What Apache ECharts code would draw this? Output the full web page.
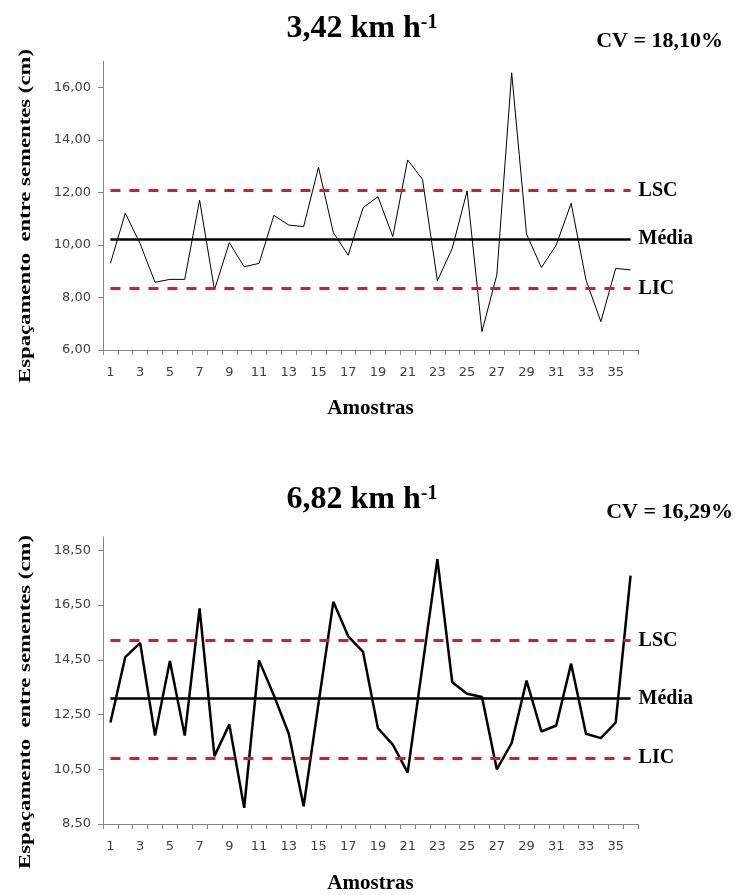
<!DOCTYPE html>
<html>
<head>
<meta charset="utf-8">
<script src="https://cdn.jsdelivr.net/npm/echarts@6/dist/echarts.min.js"></script>
<style>
  html, body { margin: 0; padding: 0; background: #fff; }
  #chart { width: 735px; height: 895px; }
</style>
</head>
<body>
<div id="chart"></div>
<script>
// ---------- data ----------
const categories = ['1','2','3','4','5','6','7','8','9','10','11','12','13','14','15','16','17','18',
  '19','20','21','22','23','24','25','26','27','28','29','30','31','32','33','34','35','36'];

// 3,42 km/h
const spacingA = [9.30, 11.21, 10.05, 8.58, 8.69, 8.69, 11.71, 8.29, 10.09, 9.17, 9.30, 11.13,
  10.76, 10.70, 12.96, 10.47, 9.61, 11.42, 11.84, 10.32, 13.24, 12.50, 8.64, 9.87,
  12.06, 6.70, 8.86, 16.56, 10.42, 9.14, 10.00, 11.59, 8.67, 7.08, 9.11, 9.05];
const limitsA = { LSC: 12.07, 'Média': 10.23, LIC: 8.34 };
const yTicksA = [6, 8, 10, 12, 14, 16];

// 6,82 km/h
const spacingB = [12.21, 14.60, 15.12, 11.73, 14.46, 11.73, 16.38, 10.98, 12.14, 9.09, 14.48, 13.20,
  11.80, 9.15, 12.90, 16.62, 15.36, 14.79, 12.00, 11.40, 10.38, 14.28, 18.18, 13.68,
  13.26, 13.14, 10.50, 11.46, 13.74, 11.88, 12.10, 14.36, 11.80, 11.64, 12.21, 17.58];
const limitsB = { LSC: 15.20, 'Média': 13.08, LIC: 10.92 };
const yTicksB = [8.5, 10.5, 12.5, 14.5, 16.5, 18.5];

const titles = ['3,42 km h', '6,82 km h'];
const cvLabels = ['CV = 18,10%', 'CV = 16,29%'];
const yName = 'Espaçamento  entre sementes (cm)';
const xName = 'Amostras';

// ---------- chart ----------
const SERIF = '"Liberation Serif", "Times New Roman", serif';
const SANS = '"DejaVu Sans", Verdana, sans-serif';
const AXIS_COLOR = '#868686';
const RED = '#c0262d';

function fmt(v) { return v.toFixed(2).replace('.', ','); }

function xAxisFor(i, gap) {
  return {
    type: 'category', gridIndex: i, data: categories, boundaryGap: true,
    axisLine: { lineStyle: { color: AXIS_COLOR, width: 1 } },
    axisTick: { show: true, interval: 0, length: 5, lineStyle: { color: AXIS_COLOR } },
    axisLabel: { interval: 1, margin: 16, fontFamily: SANS, fontSize: 13, color: '#404040' },
    splitLine: { show: false },
    name: xName, nameLocation: 'middle', nameGap: gap,
    nameTextStyle: { fontFamily: SERIF, fontWeight: 'bold', fontSize: 21, color: '#000' }
  };
}
function yAxisFor(i, min, max, ticks) {
  return {
    type: 'value', gridIndex: i, min: min, max: max,
    axisLine: { show: true, lineStyle: { color: AXIS_COLOR, width: 1 } },
    axisTick: { show: true, length: 5, lineStyle: { color: AXIS_COLOR }, customValues: ticks },
    axisLabel: { margin: 12, fontFamily: SANS, fontSize: 13, color: '#404040',
      customValues: ticks, formatter: fmt },
    splitLine: { show: false }
  };
}
function limitLines(limits) {
  const first = categories[0], last = categories[categories.length - 1];
  return Object.keys(limits).map(function (k) {
    const isMean = k === 'Média';
    return [
      { coord: [first, limits[k]], name: k,
        lineStyle: isMean ? { color: '#000', width: 2.5, type: 'solid' }
                          : { color: RED, width: 3, type: [10, 9] },
        label: { show: true, position: 'end', formatter: k, distance: 8,
          fontFamily: SERIF, fontWeight: 'bold', fontSize: 20, color: '#000' } },
      { coord: [last, limits[k]] }
    ];
  });
}
function dataSeries(i, values, limits, width) {
  return {
    type: 'line', xAxisIndex: i, yAxisIndex: i, data: values,
    symbol: 'none', lineStyle: { color: '#000', width: width },
    animation: false, z: 3,
    markLine: { silent: true, symbol: ['none', 'none'], animation: false,
      data: limitLines(limits) }
  };
}
function titleText(x, y, main) {
  return {
    type: 'text', x: x, y: y,
    style: {
      text: '{m|' + main + '}{s|-1}',
      rich: {
        m: { font: 'bold 32px ' + SERIF, fill: '#000' },
        s: { font: 'bold 20px ' + SERIF, fill: '#000', verticalAlign: 'top' }
      },
      align: 'center', verticalAlign: 'middle', textAlign: 'center', textVerticalAlign: 'middle'
    }
  };
}
function plainText(x, y, text, font, align, rot, sx) {
  return {
    type: 'text', x: x, y: y, rotation: rot || 0, scaleX: sx || 1,
    style: { text: text, font: font, fill: '#000',
      align: align, verticalAlign: 'middle', textAlign: align, textVerticalAlign: 'middle' }
  };
}

const chart = echarts.init(document.getElementById('chart'), null, { renderer: 'canvas' });
chart.setOption({
  backgroundColor: '#fff',
  animation: false,
  grid: [
    { left: 103, right: 97, top: 61.25, height: 288.75 },
    { left: 103, right: 97, top: 536.7, height: 292.3 }
  ],
  xAxis: [xAxisFor(0, 48), xAxisFor(1, 49)],
  yAxis: [yAxisFor(0, 6, 17, yTicksA), yAxisFor(1, 8.5, 19, yTicksB)],
  series: [
    dataSeries(0, spacingA, limitsA, 1),
    dataSeries(1, spacingB, limitsB, 2.5)
  ],
  graphic: [
    titleText(362, 29, titles[0]),
    titleText(362, 500, titles[1]),
    plainText(723, 41, cvLabels[0], 'bold 22px ' + SERIF, 'right'),
    plainText(733, 512, cvLabels[1], 'bold 22px ' + SERIF, 'right'),
    plainText(26, 216, yName, 'bold 16px ' + SERIF, 'center', Math.PI / 2, 1.42),
    plainText(26, 702, yName, 'bold 16px ' + SERIF, 'center', Math.PI / 2, 1.42)
  ]
});
</script>
</body>
</html>
